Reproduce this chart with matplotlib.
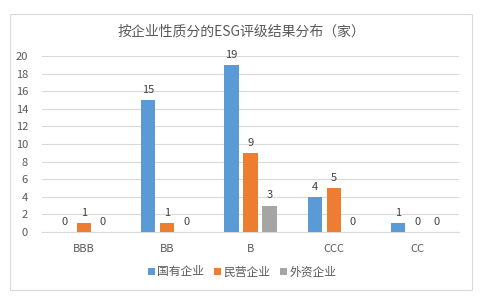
import numpy as np
import matplotlib
matplotlib.use('Agg')
import matplotlib.pyplot as plt
from matplotlib.patches import Rectangle

plt.rcParams['font.family'] = ['Noto Sans CJK SC', 'DejaVu Sans']

# data
ratings = ['BBB', 'BB', 'B', 'CCC', 'CC']
series_names = ['国有企业', '民营企业', '外资企业']
state_owned = [0, 15, 19, 4, 1]
private = [1, 1, 9, 5, 0]
foreign = [0, 0, 3, 0, 0]
yticks = list(range(0, 21, 2))

colors = ['#5B9BD5', '#ED7D31', '#A5A5A5']
text_color = '#595959'

fig = plt.figure(figsize=(4.82, 3.0), dpi=100)
fig.patch.set_facecolor('white')
# outer chart border
fig.patches.append(Rectangle((10 / 482, 1 - 290 / 300), 462 / 482, 276 / 300,
                             transform=fig.transFigure, fill=False,
                             edgecolor='#D9D9D9', linewidth=0.8))

ax = fig.add_axes([42 / 482, 1 - 232 / 300, 417 / 482, 176 / 300])

x = np.arange(len(ratings))
width = 0.17
offset = 0.228
for i, (vals, name) in enumerate(zip([state_owned, private, foreign], series_names)):
    pos = x + (i - 1) * offset
    ax.bar(pos, vals, width, color=colors[i], label=name, zorder=3)
    for xp, v in zip(pos, vals):
        ax.text(xp, v + 0.6, str(v), ha='center', va='bottom',
                fontsize=8, color='#404040', clip_on=False)

ax.set_xlim(-0.5, len(ratings) - 0.5)
ax.set_ylim(0, 20)
ax.set_yticks(yticks)
ax.set_xticks(x)
ax.set_xticklabels(ratings)
ax.yaxis.grid(True, color='#D9D9D9', linewidth=0.8, zorder=0)
ax.set_axisbelow(True)
for s in ['top', 'right', 'left']:
    ax.spines[s].set_visible(False)
ax.spines['bottom'].set_color('#D9D9D9')
ax.tick_params(axis='both', length=0, labelsize=8, colors=text_color)
ax.tick_params(axis='x', pad=9)
ax.tick_params(axis='y', pad=10)

fig.text(0.5, 1 - 32 / 300, '按企业性质分的ESG评级结果分布（家）', ha='center', va='center',
         fontsize=10, color=text_color)

fig.legend(loc='center', bbox_to_anchor=(242 / 482, 1 - 272 / 300), ncol=3,
           frameon=False, fontsize=8.5, handlelength=0.6, handleheight=0.6,
           handletextpad=0.2, columnspacing=0.8, labelcolor=text_color)

fig.savefig('out.png', dpi=100, facecolor='white')
